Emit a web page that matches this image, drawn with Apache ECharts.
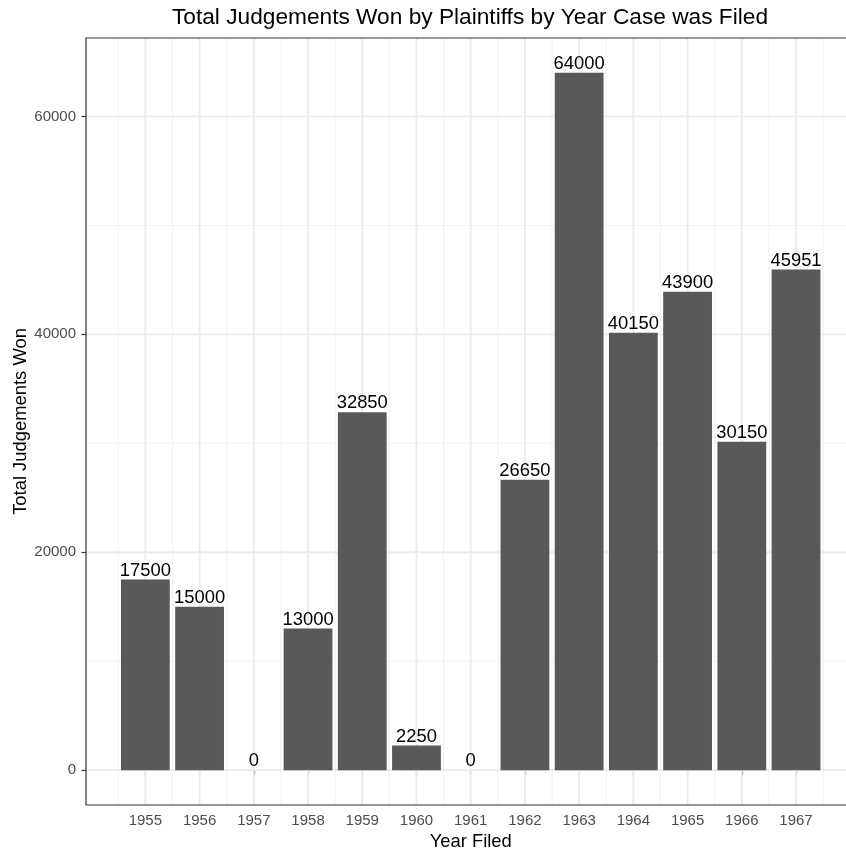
<!DOCTYPE html>
<html><head><meta charset="utf-8">
<script src="https://cdn.jsdelivr.net/npm/echarts@6/dist/echarts.min.js"></script>
<style>html,body{margin:0;padding:0;background:#fff}#c{width:846px;height:849px}</style>
</head><body><div id="c"></div>
<script>
const years = [1955,1956,1957,1958,1959,1960,1961,1962,1963,1964,1965,1966,1967];
const totals = [17500,15000,0,13000,32850,2250,0,26650,64000,40150,43900,30150,45951];
const xMajorTicks = [1955,1956,1957,1958,1959,1960,1961,1962,1963,1964,1965,1966,1967];
const xMinorBreaks = [1954.5,1955.5,1956.5,1957.5,1958.5,1959.5,1960.5,1961.5,1962.5,1963.5,1964.5,1965.5,1966.5,1967.5];
const yMajorTicks = [0,20000,40000,60000];
const yMinorBreaks = [10000,30000,50000];

const FONT = "'Liberation Sans', Arial, Helvetica, sans-serif";
const xMin = 1953.905, xMax = 1968.095, yMin = -3200, yMax = 67200;

const chart = echarts.init(document.getElementById('c'), null, {renderer:'canvas'});

function gridLines(vals, vertical, width, color) {
  return {
    type: 'custom', z: 1, silent: true, clip: false,
    data: vals.map(v => vertical ? [v, 0] : [1960, v]),
    renderItem: function (params, api) {
      const cs = params.coordSys;
      const p = api.coord([api.value(0), api.value(1)]);
      if (vertical) {
        return {type:'line', shape:{x1:p[0], y1:cs.y, x2:p[0], y2:cs.y+cs.height}, style:{stroke:color, lineWidth:width}};
      }
      return {type:'line', shape:{x1:cs.x, y1:p[1], x2:cs.x+cs.width, y2:p[1]}, style:{stroke:color, lineWidth:width}};
    }
  };
}

const gridW = 846 - 86 + 9.4;
const barW = gridW / (xMax - xMin) * 0.9;

chart.setOption({
  animation: false,
  backgroundColor: '#fff',
  textStyle: {fontFamily: FONT},
  title: {
    text: 'Total Judgements Won by Plaintiffs by Year Case was Filed',
    left: 470, top: 6, textAlign: 'center', padding: 0,
    textStyle: {fontFamily: FONT, fontSize: 22.7, fontWeight: 'normal', color: '#000'}
  },
  grid: {left: 86, top: 38, right: -9.4, bottom: 44, show: true, outerBoundsMode: 'none', containLabel: false,
         borderColor: '#333', borderWidth: 1.2, backgroundColor: 'transparent', z: 5},
  xAxis: {
    type: 'value', min: xMin, max: xMax,
    name: 'Year Filed', nameLocation: 'middle', nameGap: 27.5, nameMoveOverlap: false,
    nameTextStyle: {fontFamily: FONT, fontSize: 18.4, color: '#000'},
    axisLine: {show: false},
    axisTick: {show: true, length: 4.5, customValues: xMajorTicks, lineStyle: {color: '#333', width: 1.2}},
    axisLabel: {customValues: xMajorTicks, margin: 8, fontFamily: FONT, fontSize: 15, color: '#4D4D4D', formatter: v => String(v)},
    splitLine: {show: false}
  },
  yAxis: {
    type: 'value', min: yMin, max: yMax,
    name: 'Total Judgements Won', nameLocation: 'middle', nameGap: 56, nameMoveOverlap: false,
    nameTextStyle: {fontFamily: FONT, fontSize: 18.4, color: '#000'},
    axisLine: {show: false},
    axisTick: {show: true, length: 4.5, customValues: yMajorTicks, lineStyle: {color: '#333', width: 1.2}},
    axisLabel: {customValues: yMajorTicks, margin: 10, fontFamily: FONT, fontSize: 15, color: '#4D4D4D', formatter: v => String(v)},
    splitLine: {show: false}
  },
  series: [
    gridLines(xMinorBreaks, true, 1, '#F2F2F2'),
    gridLines(yMinorBreaks, false, 1, '#F2F2F2'),
    gridLines(xMajorTicks, true, 1.8, '#EBEBEB'),
    gridLines(yMajorTicks, false, 1.8, '#EBEBEB'),
    {
      type: 'bar', z: 3, barWidth: barW,
      data: years.map((y, i) => [y, totals[i]]),
      itemStyle: {color: '#595959'},
      label: {show: true, position: 'top', distance: 0, fontFamily: FONT, fontSize: 18.4, color: '#000', formatter: p => String(p.value[1])}
    }
  ]
});
</script>
</body></html>
